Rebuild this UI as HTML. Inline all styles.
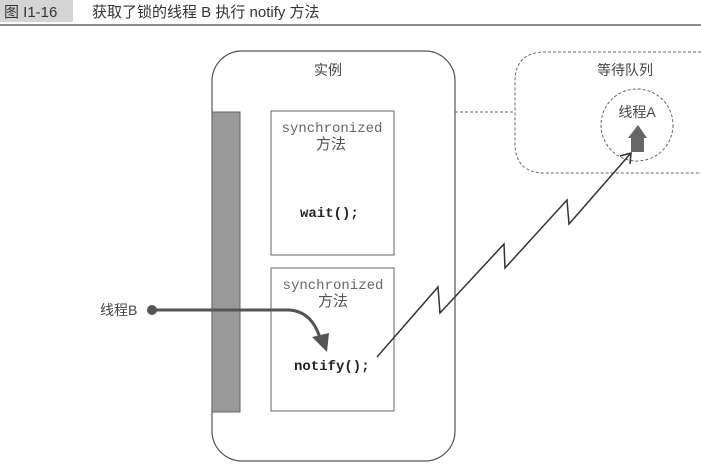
<!DOCTYPE html>
<html><head><meta charset="utf-8"><style>
body{margin:0;background:#fff;width:701px;height:472px;overflow:hidden;font-family:"Liberation Sans","Noto Sans CJK SC",sans-serif}
</style></head><body>
<svg width="701" height="472" xmlns="http://www.w3.org/2000/svg" style="position:absolute;left:0;top:0">
<rect x="0" y="0" width="73" height="22" fill="#d4d4d4"/>
<text x="4" y="17" font-size="15" fill="#333" font-family="Liberation Sans,Noto Sans CJK SC,sans-serif">图 I1-16</text>
<text x="92" y="17" font-size="15" fill="#333" font-family="Liberation Sans,Noto Sans CJK SC,sans-serif">获取了锁的线程 B 执行 notify 方法</text>
<line x1="0" y1="25" x2="701" y2="25" stroke="#666" stroke-width="1.5"/>
<rect x="212" y="51" width="243" height="410" rx="30" fill="none" stroke="#555" stroke-width="1.2"/>
<text x="328" y="75" font-size="14" fill="#444" text-anchor="middle" font-family="Liberation Sans,Noto Sans CJK SC,sans-serif">实例</text>
<rect x="212" y="112" width="28" height="300" fill="#999" stroke="#666"/>
<rect x="271" y="111" width="123" height="144" fill="#fff" stroke="#666"/>
<rect x="271" y="268" width="123" height="143" fill="#fff" stroke="#666"/>
<g font-family="Liberation Mono,monospace" fill="#666" font-size="14" text-anchor="middle">
<text x="332" y="132">synchronized</text><text x="333" y="289">synchronized</text></g>
<g font-family="Liberation Sans,Noto Sans CJK SC,sans-serif" fill="#555" font-size="15" text-anchor="middle">
<text x="331" y="149">方法</text><text x="333" y="306">方法</text></g>
<g font-family="Liberation Mono,monospace" fill="#222" font-size="14" font-weight="bold">
<text x="300" y="217">wait();</text><text x="294" y="370">notify();</text></g>
<line x1="455" y1="112" x2="515" y2="112" stroke="#666" stroke-dasharray="3,2"/>
<path d="M701 52 H545 Q515 52 515 82 V143 Q515 173 545 173 H701" fill="none" stroke="#666" stroke-dasharray="3,2"/>
<text x="625" y="75" font-size="14" fill="#444" text-anchor="middle" font-family="Liberation Sans,Noto Sans CJK SC,sans-serif">等待队列</text>
<circle cx="637" cy="125" r="36" fill="none" stroke="#666" stroke-dasharray="3,2"/>
<text x="637" y="117" font-size="14" fill="#444" text-anchor="middle" font-family="Liberation Sans,Noto Sans CJK SC,sans-serif">线程A</text>
<path d="M631 152 V138 H628 L638 125 L647 138 H644 V152 Z" fill="#666"/>
<polyline points="377,357 438,287 440,313 504,244 505,268 567,200 569,224 631,153" fill="none" stroke="#333" stroke-width="1.5"/>
<path d="M620 156 L631 153 L630 164" fill="none" stroke="#333" stroke-width="1.5"/>
<text x="100" y="315" font-size="14" fill="#444" font-family="Liberation Sans,Noto Sans CJK SC,sans-serif">线程B</text>
<circle cx="152" cy="310" r="5" fill="#555"/>
<path d="M152 310 H290 Q312 312 320 338" fill="none" stroke="#555" stroke-width="3"/>
<path d="M312 337 L327 352 L329 333 Z" fill="#555"/>
</svg>
</body></html>
